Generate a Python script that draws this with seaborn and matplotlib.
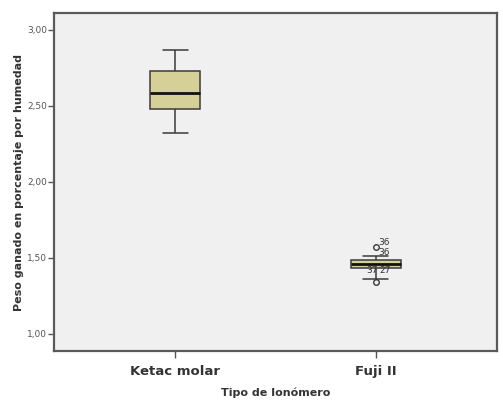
import matplotlib
matplotlib.use("Agg")
import matplotlib.pyplot as plt
from matplotlib.ticker import FuncFormatter
import seaborn as sns
import pandas as pd

# values (quartiles, whiskers, outliers)
ketac_values = [2.324, 2.480, 2.587, 2.726, 2.864]
fuji_values = [1.342, 1.362, 1.432, 1.445, 1.458, 1.470, 1.487, 1.513, 1.572]
categories = ["Ketac molar", "Fuji II"]
y_ticks = [1.0, 1.5, 2.0, 2.5, 3.0]

# case labels next to the Fuji II outliers
case_labels = ["36", "36", "37", "27"]
case_values = [1.575, 1.505, 1.39, 1.39]
case_dx = [0.015, 0.015, 0.012, 0.018]
case_ha = ["left", "left", "right", "left"]

df = pd.DataFrame({
    "grupo": [categories[0]] * len(ketac_values) + [categories[1]] * len(fuji_values),
    "peso": ketac_values + fuji_values,
})

sns.set_style("white")
fig = plt.figure(figsize=(5.03, 4.08), dpi=100)
ax = fig.add_axes([0.1074, 0.1397, 0.8807, 0.8284])
ax.set_facecolor("#f0f0f0")

sns.boxplot(data=df, x="grupo", y="peso", order=categories, ax=ax,
            width=0.25, color="#d5d098", linecolor="#3a3a3a", linewidth=1.1,
            fliersize=4,
            flierprops=dict(marker="o", markerfacecolor="none",
                            markeredgecolor="#3a3a3a", markeredgewidth=1.0),
            medianprops=dict(color="#111111", linewidth=2.0),
            saturation=1)

for lab, yv, dx, ha in zip(case_labels, case_values, case_dx, case_ha):
    ax.text(1 + dx, yv, lab, fontsize=6.5, color="#333333", ha=ha, va="bottom")

ax.set_xlim(-0.605, 1.605)
ax.set_ylim(0.888, 3.11)
ax.set_yticks(y_ticks)
ax.yaxis.set_major_formatter(FuncFormatter(lambda v, p: f"{v:.2f}".replace(".", ",")))

ax.tick_params(axis="y", direction="out", length=4, width=1, color="#555555",
               labelsize=6.5, labelcolor="#555555", left=True, pad=1)
ax.tick_params(axis="x", direction="out", length=5, width=1, color="#555555",
               labelsize=9.5, labelcolor="#333333", bottom=True, pad=5)
for t in ax.get_xticklabels():
    t.set_fontweight("semibold")

for s in ax.spines.values():
    s.set_color("#5a5a5a")
    s.set_linewidth(1.6)

ax.set_xlabel("Tipo de Ionómero", fontsize=8, fontweight="bold", color="#333333", labelpad=7)
ax.set_ylabel("Peso ganado en porcentaje por humedad", fontsize=8, fontweight="bold",
              color="#333333", labelpad=2)

fig.savefig("out.png", dpi=100)
